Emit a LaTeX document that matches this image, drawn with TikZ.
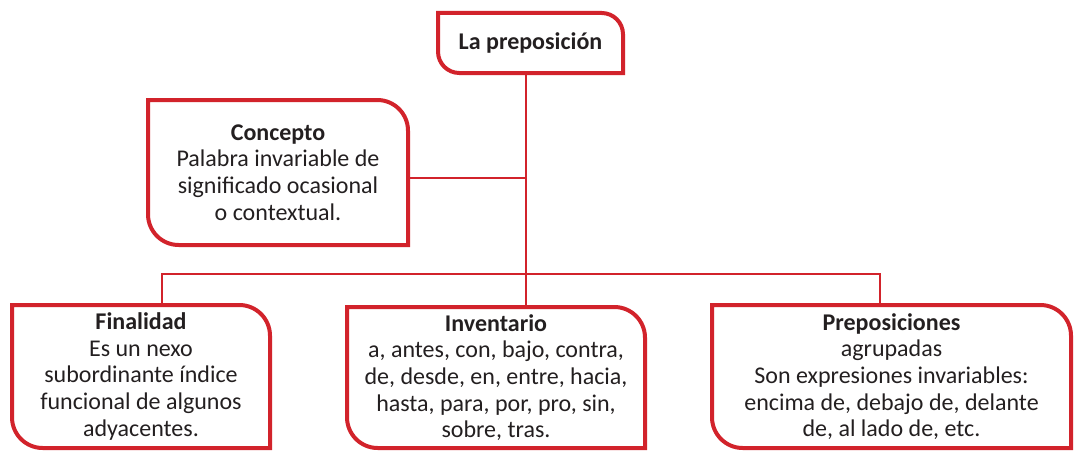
\documentclass[tikz,border=0pt]{standalone}
\usepackage{fontspec}
\setmainfont{Carlito}
\definecolor{rojo}{RGB}{210,35,43}
\definecolor{ink}{RGB}{35,31,32}
\newcommand\frameit[2]{\draw[frame] (#1.north west) -- ([xshift=-#2]#1.north east) arc[start angle=90,end angle=0,radius=#2] -- (#1.south east) -- ([xshift=#2]#1.south west) arc[start angle=270,end angle=180,radius=#2] -- cycle;}
\begin{document}
\begin{tikzpicture}[x=0.75pt,y=0.75pt,
  boxn/.style={inner sep=0pt, outer sep=0pt, align=center, text=ink, font=\fontsize{18pt}{20pt}\selectfont},
  frame/.style={draw=rojo, line width=3pt},
  conn/.style={draw=rojo, line width=1.6pt}]
\useasboundingbox (0,0) rectangle (1074,451);
\node[boxn, minimum width=138.75pt, minimum height=45pt] (top) at (530.5,408) {\textbf{La preposición}};
\node[boxn, minimum width=195pt, minimum height=108.75pt] (concept) at (278,278.5) {\textbf{Concepto}\\Palabra invariable de\\significado ocasional\\o contextual.};
\node[boxn, minimum width=193.5pt, minimum height=107.25pt] (fin) at (141,74.5) {\textbf{Finalidad}\\Es un nexo\\subordinante índice\\funcional de algunos\\adyacentes.};
\node[boxn, minimum width=223.5pt, minimum height=105.75pt] (inv) at (496,73.5) {\textbf{Inventario}\\a, antes, con, bajo, contra,\\de, desde, en, entre, hacia,\\hasta, para, por, pro, sin,\\sobre, tras.};
\node[boxn, minimum width=269.25pt, minimum height=107.25pt] (pre) at (891.5,74.5) {\textbf{Preposiciones}\\agrupadas\\Son expresiones invariables:\\encima de, debajo de, delante\\de, al lado de, etc.};
\coordinate (hub) at (526,177);
\coordinate (fx) at (162,177);
\coordinate (px) at (880,177);
\draw[conn] (top.south -| hub) -- (inv.north -| hub);
\draw[conn] ([yshift=-4pt]concept.east) -- ([yshift=-4pt]concept.east -| hub);
\draw[conn] (fin.north -| fx) -- (fx) -- (px) -- (pre.north -| px);
\frameit{top}{16pt}
\frameit{concept}{23pt}
\frameit{fin}{23pt}
\frameit{inv}{23pt}
\frameit{pre}{23pt}
\end{tikzpicture}
\end{document}
